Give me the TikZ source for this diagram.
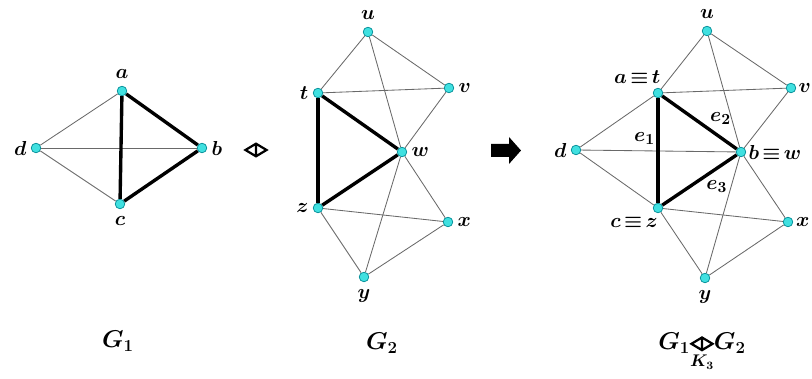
\documentclass[tikz,border=0pt]{standalone}
\usepackage{amsmath,amssymb}
\usepackage{bm}
\usepackage{xcolor}
\usepackage{tikz}
\definecolor{dotfill}{RGB}{64,224,224}
\definecolor{dotline}{RGB}{0,140,150}
\definecolor{edgegray}{RGB}{105,105,105}
\newcommand{\gluesym}{\tikz[baseline=-0.6ex, x=1pt, y=1pt]\draw[line width=1.6pt, line join=miter] (-7.5,0) -- (0,4.5) -- (7.5,0) -- (0,-4.5) -- cycle (0,4.5) -- (0,-4.5);}

\begin{document}
\begin{tikzpicture}[
  x=0.025cm, y=-0.025cm,
  vert/.style={circle, draw=dotline, fill=dotfill, line width=0.5pt, inner sep=0pt, minimum size=0.24cm},
  gedge/.style={draw=edgegray, line width=0.6pt},
  tedge/.style={draw=black, line width=2.4pt},
  every label/.style={font=\fontsize{15}{18}\selectfont, inner sep=1pt},
  elab/.style={font=\fontsize{15}{18}\selectfont, inner sep=1pt},
  lab/.style={font=\fontsize{17}{20}\selectfont, anchor=base}
]
\useasboundingbox (0,0) rectangle (812,379);
% G1
\node[vert, label={[label distance=4pt]above:$\bm{a}$}] (a1) at (122,91)  {};
\node[vert, label={[label distance=2pt]right:$\bm{b}$}] (b1) at (202,148) {};
\node[vert, label={[label distance=4pt]below:$\bm{c}$}] (c1) at (120,204) {};
\node[vert, label={[label distance=2pt]left:$\bm{d}$}]  (d1) at (36,148)  {};
\draw[gedge] (a1) -- (d1) -- (c1);
\draw[gedge] (d1) -- (b1);
\draw[tedge] (a1) -- (b1);
\draw[tedge] (a1) -- (c1);
\draw[tedge] (b1) -- (c1);
\node (glue) at (256,150) {\gluesym};
% G2
\node[vert, label={[label distance=4pt]above:$\bm{u}$}] (u2) at (368,32)  {};
\node[vert, label={[label distance=2pt]left:$\bm{t}$}]  (t2) at (318,93)  {};
\node[vert, label={[label distance=2pt]right:$\bm{v}$}] (v2) at (449,88)  {};
\node[vert, label={[label distance=2pt]right:$\bm{w}$}] (w2) at (402,152) {};
\node[vert, label={[label distance=2pt]left:$\bm{z}$}]  (z2) at (318,208) {};
\node[vert, label={[label distance=2pt]right:$\bm{x}$}] (x2) at (448,222) {};
\node[vert, label={[label distance=4pt]below:$\bm{y}$}] (y2) at (364,277) {};
\draw[gedge] (t2) -- (u2) -- (v2) -- (t2);
\draw[gedge] (u2) -- (w2) -- (v2);
\draw[gedge] (w2) -- (x2) -- (z2) -- (y2) -- (x2);
\draw[gedge] (w2) -- (y2);
\draw[tedge] (t2) -- (w2);
\draw[tedge] (t2) -- (z2);
\draw[tedge] (z2) -- (w2);
% arrow
\fill (491,144) -- (509,144) -- (509,137) -- (521,150.5) -- (509,164) -- (509,157) -- (491,157) -- cycle;
% G1 glued with G2
\node[vert, label={[label distance=4pt]above:$\bm{u}$}] (u3) at (707,31)  {};
\node[vert, label={[xshift=-0.52cm, label distance=2pt]above:$\bm{a\,{\equiv}\,t}$}] (t3) at (658,93) {};
\node[vert, label={[label distance=0.5pt]right:$\bm{v}$}] (v3) at (791,88)  {};
\node[vert, label={[label distance=2pt]left:$\bm{d}$}]  (d3) at (576,150) {};
\node[vert, label={[label distance=0.5pt]right:$\bm{b\,{\equiv}\,w}$}] (w3) at (741,152) {};
\node[vert, label={[xshift=-0.6cm, label distance=2pt]below:$\bm{c\,{\equiv}\,z}$}] (z3) at (658,208) {};
\node[vert, label={[label distance=1pt]right:$\bm{x}$}] (x3) at (788,222) {};
\node[vert, label={[label distance=4pt]below:$\bm{y}$}] (y3) at (705,278) {};
\draw[gedge] (t3) -- (u3) -- (v3) -- (t3);
\draw[gedge] (u3) -- (w3) -- (v3);
\draw[gedge] (w3) -- (x3) -- (z3) -- (y3) -- (x3);
\draw[gedge] (w3) -- (y3);
\draw[gedge] (t3) -- (d3) -- (z3);
\draw[gedge] (d3) -- (w3);
\draw[tedge] (t3) -- node[elab, pos=0.39, anchor=east] {$\bm{e_1}$} (z3);
\draw[tedge] (t3) -- node[elab, pos=0.6, anchor=south west] {$\bm{e_2}$} (w3);
\draw[tedge] (z3) -- node[elab, pos=0.55, anchor=north west] {$\bm{e_3}$} (w3);
% names
\node[lab] (g1lab) at (118,348) {$\bm{G_1}$};
\node[lab] (g2lab) at (382,350) {$\bm{G_2}$};
\node[lab] (g3lab) at (702,350) {$\bm{G_1}\underset{\bm{K_3}}{\gluesym}\bm{G_2}$};
\end{tikzpicture}
\end{document}
